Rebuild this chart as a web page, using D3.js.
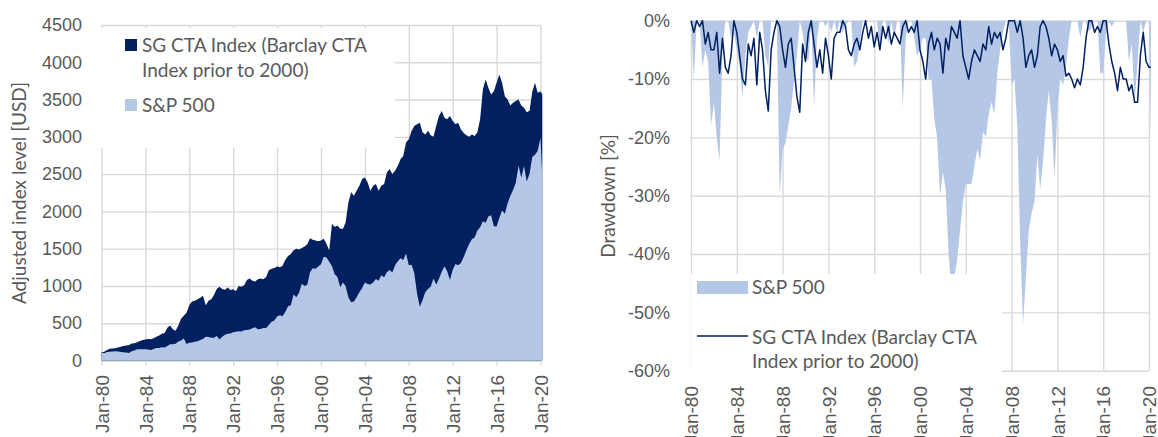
<!DOCTYPE html>
<html lang="en">
<head>
<meta charset="utf-8">
<title>SG CTA Index vs S&amp;P 500</title>
<script src="https://cdn.jsdelivr.net/npm/d3@7"></script>
<style>
  body { margin: 0; background: #fff; }
  svg { display: block; font-family: Lato, "Open Sans", sans-serif; }
  .axis .domain { display: none; }
  .axis line { stroke: #d9d9d9; stroke-width: 1.4; }
  .axis text { font-size: 18px; fill: #595959; }
  .axis.x text { font-size: 19px; }
  .title { font-size: 19px; fill: #595959; }
  .legend text { font-size: 19px; fill: #595959; }
</style>
</head>
<body>
<svg id="chart" width="1158" height="437"></svg>
<script>
// quarterly observations Jan-80 ... Jan-20, plus Mar-20
var startDate = new Date(1980, 0, 1);
var dates = d3.range(161).map(function (i) { return d3.timeMonth.offset(startDate, i * 3); });
dates.push(new Date(2020, 2, 1));

// left chart: adjusted index levels (Jan, Apr, Jul, Oct of each year)
var ctaLevel = [
  110, 118, 140, 158,   160, 165, 175, 185,   195, 200, 205, 228,   232, 245, 262, 275,
  282, 290, 285, 300,   320, 335, 360, 370,   440, 470, 420, 400,   470, 560, 600, 640,
  740, 790, 800, 820,   840, 870, 740, 800,   820, 880, 960, 990,   960, 950, 980, 945,
  955, 930, 1000, 990,  1010, 1080, 1100, 1070, 1060, 1090, 1100, 1090, 1120, 1210, 1230, 1240,
  1260, 1250, 1270, 1350, 1400, 1430, 1480, 1500, 1490, 1510, 1530, 1560, 1640, 1620, 1610, 1600,
  1610, 1633, 1566, 1477, 1833, 1790, 1810, 1766, 1766, 1855, 2122, 2256, 2211, 2278, 2345, 2434,
  2456, 2389, 2278, 2345, 2367, 2278, 2345, 2367, 2523, 2567, 2500, 2545, 2612, 2701, 2745, 2923,
  2968, 3079, 3146, 3168, 3190, 3060, 3030, 3080, 3020, 3000, 3146, 3279, 3346, 3257, 3235, 3279,
  3212, 3168, 3190, 3100, 3050, 3020, 3000, 3030, 3010, 3060, 3235, 3635, 3769, 3657, 3568, 3613,
  3724, 3835, 3724, 3546, 3502, 3420, 3457, 3480, 3500, 3420, 3390, 3330, 3350, 3600, 3724, 3590,
  3613, 3568
];
var spxLevel = [
  106, 98, 113, 118,    120, 123, 121, 113,   111, 108, 99, 124,    135, 152, 151, 151,
  151, 148, 140, 154,   166, 166, 177, 176,   196, 218, 219, 226,   254, 267, 295, 220,
  238, 242, 252, 258,   275, 287, 320, 315,   305, 306, 330, 281,   318, 347, 359, 363,
  378, 384, 393, 388,   406, 408, 415, 433,   446, 418, 424, 437,   436, 477, 520, 538,
  589, 606, 593, 653,   728, 742, 884, 847,   908, 1029, 1000, 1017, 1185, 1236, 1230, 1262,
  1291, 1390, 1380, 1324, 1265, 1157, 1121, 981, 1046, 997, 844, 780, 792, 849, 917, 973,
  1047, 1025, 1020, 1046, 1094, 1071, 1143, 1118, 1185, 1214, 1182, 1276, 1332, 1373, 1347, 1435,
  1276, 1283, 1174, 897, 720, 808, 914, 959,  994, 1099, 1020, 1096, 1191, 1263, 1197, 1080,
  1215, 1294, 1277, 1308, 1387, 1479, 1561, 1626, 1651, 1744, 1788, 1869, 1847, 1931, 1948, 1800,
  1796, 1912, 2013, 1969, 2110, 2208, 2287, 2385, 2615, 2452, 2608, 2400, 2504, 2728, 2760, 2813,
  2987, 2450
];

// right chart: drawdowns in %
var spxDrawdown = [
  0, -10, 0, 0,     -8, -5, -7, -18,    -14, -20, -24, -5,   0, 0, -3, -2,
  -5, -8, -13, -6,  -2, -1, 0, -3,      0, 0, -6, -8,       0, 0, 0, -30,
  -22, -21, -18, -15, -10, -6, 0, -2,   -6, -7, 0, -15,     -3, 0, 0, -1,
  0, -2, 0, -2,     0, -2, -1, 0,       0, -8, -7, -4,      0, 0, 0, 0,
  0, 0, -5, 0,      0, -4, 0, -3,       0, 0, -15, -3,      0, 0, -3, -6,
  -5, -3, -3, -10,  -10, -17, -20, -30, -26, -29, -40, -46, -44, -41, -36, -31,
  -28, -28, -28, -25, -22, -24, -19, -20, -16, -14, -16, -9, -5, -2, 0, 0,
  -11, -10, -18, -38, -52, -44, -36, -33, -31, -23, -29, -24, -17, -12, -17, -27,
  -15, -10, -11, -8, -3, 0, 0, 0,       -3, 0, 0, -2,       -1, 0, 0, -9,
  -9, -2, 0, -1,    0, 0, 0, 0,         0, -7, -4, -14,     -7, 0, -2, 0,
  0, -20
];
var ctaDrawdown = [
  0, -2, 0, -1,     0, -4, -2, -5,      -5, -2, -9, -3,     -8, -9, -6, 0,
  -2, -6, -10, -11, -4, -6, -3, -11,    -2, -5, -12, -15.5, -5, -2, 0, -1,
  -5, -8, -4, -3,   -8, -13, -15.7, -4, -7, -2, 0, -4,      -8, -5, -9, -3,
  -6, -10, -3, -2,  -2, 0, -1, -5,      -6, -4, -3, -5,     -2, 0, -3, -1,
  -4.5, -2, -5, -1, -3, -1, -4, -2,     -3, -4, -1, 0,      -2, -1, -2, 0,
  -5, -7, -10, -4,  -2, -5, -3, -4,     -9, -3, -5, -1,     -2, -3, 0, -6,
  -8, -10, -7, -5,  -6, -7, -4, -5,     -1, -4, -2, -3,     -2, -5, -3, 0,
  0, 0, -2, 0,      -3, -8, -6, -5,     -8, -6, -1, 0,      -1, -3, -6, -4,
  -5, -7, -6, -9.5, -9, -10, -11.5, -10, -11, -8, -3, 0,    0, -2, -1, -2,
  0, 0, -4, -7,     -9, -12, -8, -10,   -10, -12, -11, -14, -14, -6, -2, -7,
  -8, -8
];

var tickYears = [1980, 1984, 1988, 1992, 1996, 2000, 2004, 2008, 2012, 2016, 2020];
var levelTicks = [0, 500, 1000, 1500, 2000, 2500, 3000, 3500, 4000, 4500];
var drawdownTicks = [0, -10, -20, -30, -40, -50, -60];

var navy = "#002060", light = "#b4c7e7";
var fmtDate = d3.timeFormat("%b-%y");
var tickDates = tickYears.map(function (y) { return new Date(y, 0, 1); });

var svg = d3.select("#chart");

function xLabels(g, pad) {
  g.selectAll("text")
    .attr("transform", "rotate(-90)")
    .attr("x", -pad)
    .attr("y", 0)
    .attr("dy", "0.35em")
    .style("text-anchor", "end");
}

// ---------- left: index levels ----------
var L = { left: 101.5, top: 25, width: 439, height: 335.5 };
var gl = svg.append("g").attr("transform", "translate(" + L.left + "," + L.top + ")");

var xL = d3.scaleTime().domain([tickDates[0], tickDates[tickDates.length - 1]]).range([0, L.width]);
var yL = d3.scaleLinear().domain([0, 4500]).range([L.height, 0]);

gl.append("g").attr("class", "axis y")
  .call(d3.axisLeft(yL).tickValues(levelTicks).tickFormat(d3.format("d"))
    .tickSize(-L.width).tickPadding(19.5));

gl.append("g").attr("class", "axis x")
  .attr("transform", "translate(0," + L.height + ")")
  .call(d3.axisBottom(xL).tickValues(tickDates).tickFormat(fmtDate).tickSize(-L.height))
  .call(function (g) { g.selectAll(".tick line").attr("y1", 5); })
  .call(xLabels, 14.5);

// legend background hides the gridlines behind it
gl.append("rect").attr("x", 100 - L.left).attr("y", 28 - L.top)
  .attr("width", 295).attr("height", 120).attr("fill", "#fff");

gl.append("path")
  .datum(dates)
  .attr("fill", navy)
  .attr("d", d3.area()
    .x(function (d) { return xL(d); })
    .y0(yL(0))
    .y1(function (d, i) { return yL(ctaLevel[i]); }));

gl.append("path")
  .datum(dates)
  .attr("fill", light)
  .attr("d", d3.area()
    .x(function (d) { return xL(d); })
    .y0(yL(0))
    .y1(function (d, i) { return yL(spxLevel[i]); }));

svg.append("text").attr("class", "title")
  .attr("transform", "translate(19,193) rotate(-90)")
  .attr("dy", "0.35em")
  .style("text-anchor", "middle")
  .text("Adjusted index level [USD]");

var legL = svg.append("g").attr("class", "legend");
legL.append("rect").attr("x", 125).attr("y", 39).attr("width", 12).attr("height", 12).attr("fill", navy);
legL.append("text").attr("x", 142).attr("y", 52).text("SG CTA Index (Barclay CTA");
legL.append("text").attr("x", 142).attr("y", 77).text("Index prior to 2000)");
legL.append("rect").attr("x", 125).attr("y", 99).attr("width", 12).attr("height", 12).attr("fill", light);
legL.append("text").attr("x", 142).attr("y", 112).text("S&P 500");

// ---------- right: drawdowns ----------
var R = { left: 691, top: 20.7, width: 458, height: 350 };
var gr = svg.append("g").attr("transform", "translate(" + R.left + "," + R.top + ")");

var xR = d3.scaleTime().domain([tickDates[0], tickDates[tickDates.length - 1]]).range([0, R.width]);
var yR = d3.scaleLinear().domain([-60, 0]).range([R.height, 0]);

gr.append("g").attr("class", "axis y")
  .call(d3.axisLeft(yR).tickValues(drawdownTicks).tickFormat(function (d) { return d + "%"; })
    .tickSize(-R.width).tickPadding(21));

gr.append("g").attr("class", "axis x")
  .attr("transform", "translate(0," + R.height + ")")
  .call(d3.axisBottom(xR).tickValues(tickDates).tickFormat(fmtDate).tickSize(-R.height))
  .call(xLabels, 15.3);

gr.append("path")
  .datum(dates)
  .attr("fill", light)
  .attr("d", d3.area()
    .x(function (d) { return xR(d); })
    .y0(yR(0))
    .y1(function (d, i) { return yR(spxDrawdown[i]); }));

gr.append("path")
  .datum(dates)
  .attr("fill", "none")
  .attr("stroke", navy)
  .attr("stroke-width", 1.5)
  .attr("stroke-linejoin", "round")
  .attr("d", d3.line()
    .x(function (d) { return xR(d); })
    .y(function (d, i) { return yR(ctaDrawdown[i]); }));

svg.append("text").attr("class", "title")
  .attr("transform", "translate(608,196) rotate(-90)")
  .attr("dy", "0.35em")
  .style("text-anchor", "middle")
  .text("Drawdown [%]");

var legR = svg.append("g").attr("class", "legend");
legR.append("rect").attr("x", 691).attr("y", 274).attr("width", 311).attr("height", 110).attr("fill", "#fff");
legR.append("rect").attr("x", 697).attr("y", 281).attr("width", 51).attr("height", 13).attr("fill", light);
legR.append("text").attr("x", 752).attr("y", 294).text("S&P 500");
legR.append("line").attr("x1", 697).attr("x2", 748).attr("y1", 336).attr("y2", 336)
  .attr("stroke", navy).attr("stroke-width", 1.5);
legR.append("text").attr("x", 752).attr("y", 344).text("SG CTA Index (Barclay CTA");
legR.append("text").attr("x", 752).attr("y", 368).text("Index prior to 2000)");
</script>
</body>
</html>
